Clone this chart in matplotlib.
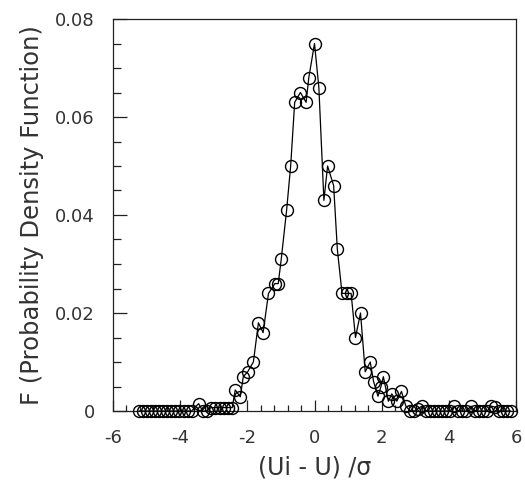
import matplotlib
matplotlib.use("Agg")
import matplotlib.pyplot as plt
from matplotlib.ticker import MultipleLocator

# Data
x_left_tail = [-5.22, -5.10, -4.98, -4.86, -4.74, -4.62, -4.50, -4.38, -4.26, -4.14,
               -4.02, -3.90, -3.78, -3.66, -3.45, -3.33, -3.21, -3.08, -2.95, -2.82,
               -2.70, -2.57, -2.45]
y_left_tail = [0, 0, 0, 0, 0, 0, 0, 0, 0, 0,
               0, 0, 0, 0, 0.0015, 0, 0, 0.0007, 0.0007, 0.0007,
               0.0007, 0.0007, 0.0007]

x_core = [-2.36, -2.21, -2.12, -1.99, -1.82, -1.67, -1.53, -1.37, -1.18, -1.08,
          -0.99, -0.83, -0.71, -0.59, -0.42, -0.25, -0.17, 0.00, 0.13, 0.28,
          0.39, 0.57, 0.68, 0.82, 0.96, 1.09, 1.22, 1.37, 1.51, 1.66,
          1.76, 1.89, 1.98, 2.05, 2.20, 2.30, 2.45, 2.59, 2.72]
y_core = [0.0043, 0.0029, 0.007, 0.008, 0.010, 0.018, 0.016, 0.024, 0.026, 0.026,
          0.031, 0.041, 0.050, 0.063, 0.065, 0.063, 0.068, 0.075, 0.066, 0.043,
          0.050, 0.046, 0.033, 0.024, 0.024, 0.024, 0.015, 0.020, 0.008, 0.010,
          0.006, 0.003, 0.005, 0.007, 0.002, 0.0035, 0.002, 0.004, 0.001]

x_right_tail = [2.85, 2.97, 3.09, 3.20, 3.32, 3.44, 3.56, 3.68, 3.80, 3.92,
                4.04, 4.16, 4.28, 4.40, 4.52, 4.66, 4.78, 4.90, 5.02, 5.14,
                5.26, 5.38, 5.50, 5.62, 5.72, 5.84]
y_right_tail = [0, 0, 0.0005, 0.001, 0, 0, 0, 0, 0, 0,
                0, 0.001, 0, 0, 0, 0.001, 0, 0, 0, 0,
                0.001, 0.0008, 0, 0, 0, 0]

x_vals = x_left_tail + x_core + x_right_tail
y_vals = y_left_tail + y_core + y_right_tail

x_ticks = [-6, -4, -2, 0, 2, 4, 6]
x_ticklabels = ["-6", "-4", "-2", "0", "2", "4", "6"]
y_ticks = [0, 0.02, 0.04, 0.06, 0.08]
y_ticklabels = ["0", "0.02", "0.04", "0.06", "0.08"]

plt.rcParams['font.family'] = ['DejaVu Sans']

fig = plt.figure(figsize=(5.25, 4.82), dpi=100)
ax = fig.add_axes([113/525, 1 - 411/482, (516-113)/525, (411-19)/482])

ax.plot(x_vals, y_vals, color='black', lw=0.9, marker='o', ms=8.6,
        mfc='none', mec='black', mew=1.0, clip_on=False, zorder=3)

ax.set_xlim(-6, 6)
ax.set_ylim(0, 0.08)
ax.set_xticks(x_ticks)
ax.set_xticklabels(x_ticklabels)
ax.set_yticks(y_ticks)
ax.set_yticklabels(y_ticklabels)
ax.xaxis.set_minor_locator(MultipleLocator(0.4))
ax.yaxis.set_minor_locator(MultipleLocator(0.005))

ax.tick_params(axis='y', which='major', direction='in', length=10, width=0.9,
               labelsize=13, pad=13, colors='#222222', labelcolor='#333333')
ax.tick_params(axis='y', which='minor', direction='in', length=6, width=0.9, colors='#222222')
ax.tick_params(axis='x', which='major', direction='in', length=8, width=0.9,
               labelsize=13, pad=13, colors='#222222', labelcolor='#333333')
ax.tick_params(axis='x', which='minor', direction='in', length=4.5, width=0.9, colors='#222222')
ax.tick_params(top=False, right=False, which='both')

for s in ax.spines.values():
    s.set_linewidth(0.9)
    s.set_color('#222222')

ax.set_xlabel("(Ui - U) /σ", fontsize=17, color='#333333', labelpad=6)
ax.set_ylabel("F (Probability Density Function)", fontsize=17.5, color='#333333', labelpad=8)

fig.savefig("out.png", dpi=100)
